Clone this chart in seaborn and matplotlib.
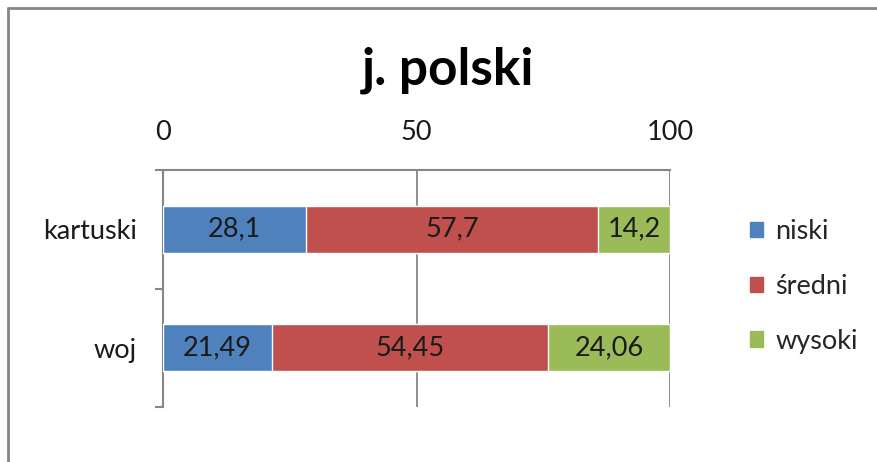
import matplotlib
matplotlib.use('Agg')
import matplotlib.pyplot as plt
import matplotlib.patches as mpatches
from matplotlib.lines import Line2D
import seaborn as sns
import pandas as pd
import numpy as np

# dane
regiony = ['kartuski', 'woj']
poziomy = ['niski', 'średni', 'wysoki']
niski = [28.1, 21.49]
sredni = [57.7, 54.45]
wysoki = [14.2, 24.06]
kolory = ['#4F81BD', '#C0504D', '#9BBB59']

sns.set_theme(style='white')
plt.rcParams['font.family'] = ['Lato', 'DejaVu Sans']

df = pd.DataFrame({'region': regiony, 'niski': niski, 'średni': sredni, 'wysoki': wysoki})
skumulowane = df[poziomy].cumsum(axis=1)

fig = plt.figure(figsize=(8.77, 4.62), dpi=100)
fig.patch.set_linewidth(0)
ax = fig.add_axes([0.186, 0.119, 0.578, 0.513])

# słupki skumulowane - od najdłuższego do najkrótszego
for poziom, kolor in reversed(list(zip(poziomy, kolory))):
    sns.barplot(x=skumulowane[poziom], y=df['region'], orient='h', color=kolor,
                width=0.4, saturation=1, ax=ax, zorder=3)

# etykiety wartości w środku segmentów
for i in range(len(regiony)):
    lewa = 0
    for poziom in poziomy:
        v = df.loc[i, poziom]
        ax.text(lewa + v / 2, i, f'{v:g}'.replace('.', ','), ha='center', va='center',
                fontsize=19.5, color='#1a1a1a', zorder=4)
        lewa += v

ax.set_xlim(0, 100)
ax.set_ylim(1.5, -0.5)
ax.set_xticks([0, 50, 100])
ax.xaxis.tick_top()
ax.tick_params(axis='x', length=0, pad=18, labelsize=19.5, colors='#1a1a1a')
ax.tick_params(axis='y', which='major', left=True, length=0, pad=19, labelsize=19.5,
               colors='#1a1a1a')
ax.set_yticks([-0.5, 0.5, 1.5], minor=True)
ax.tick_params(axis='y', which='minor', left=True, length=6, width=1.5,
               color='#868686', direction='out')
ax.set_xlabel('')
ax.set_ylabel('')

ax.grid(axis='x', color='#868686', linewidth=1.3, zorder=0)
ax.grid(axis='y', visible=False)
for s in ['right', 'bottom']:
    ax.spines[s].set_visible(False)
for s in ['left', 'top']:
    ax.spines[s].set_visible(True)
    ax.spines[s].set_color('#868686')
    ax.spines[s].set_linewidth(1.5)

fig.text(0.511, 0.848, 'j. polski', ha='center', va='center', fontsize=37,
         fontweight='bold', color='black')

uchwyty = [mpatches.Patch(color=k, label=p) for p, k in zip(poziomy, kolory)]
fig.legend(handles=uchwyty, loc='center left', bbox_to_anchor=(0.855, 0.38),
           frameon=False, fontsize=19.5, handlelength=0.5, handleheight=0.5,
           handletextpad=0.45, labelspacing=1.1, borderaxespad=0, borderpad=0)

# ramka wykresu (tylko lewa i górna krawędź widoczna)
x0 = 8 / 877
y0 = 1 - 8 / 462
fig.add_artist(Line2D([x0, 1.05], [y0, y0], transform=fig.transFigure,
                      color='#868686', linewidth=2))
fig.add_artist(Line2D([x0, x0], [-0.05, y0], transform=fig.transFigure,
                      color='#868686', linewidth=2))

fig.savefig('out.png', dpi=100)
